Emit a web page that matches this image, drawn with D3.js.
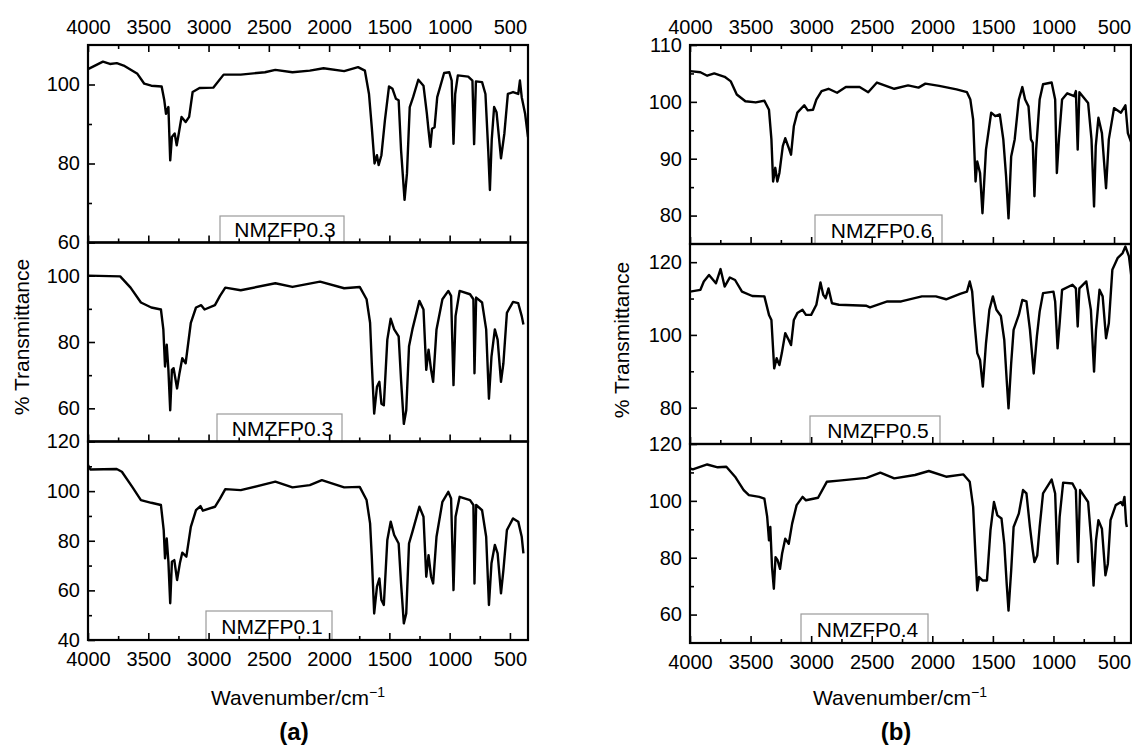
<!DOCTYPE html>
<html>
<head>
<meta charset="utf-8">
<script src="https://d3js.org/d3.v7.min.js"></script>
<style>
  body { margin: 0; background: #fff; }
  svg { font-family: "Liberation Sans", Arial, sans-serif; }
</style>
</head>
<body>
<script>
// x ticks (wavenumber, cm-1)
const xMajor = [4000, 3500, 3000, 2500, 2000, 1500, 1000, 500];
const xMinor = [3750, 3250, 2750, 2250, 1750, 1250, 750];

// (a) NMZFP0.3 (top)
const specA1 = [[4000,103.9],[3876,105.8],[3818,105.2],[3761,105.4],[3704,104.8],[3590,102.7],[3533,100.2],[3475,99.7],[3389,99.5],[3367,96],[3353,92.6],[3333,94.3],[3318,80.8],[3304,86.7],[3281,87.6],[3264,84.6],[3247,87.6],[3224,91.8],[3190,90.5],[3161,91.8],[3132,98.1],[3075,99.1],[2961,99.2],[2875,102.5],[2733,102.5],[2532,103.1],[2446,103.7],[2304,103.1],[2160,103.5],[2046,104.1],[1875,103.4],[1760,104.4],[1703,103.5],[1669,97.6],[1646,89.2],[1623,80],[1603,82.1],[1589,79.6],[1566,82.1],[1537,90.9],[1503,99.5],[1474,98.9],[1446,96.4],[1423,96],[1403,83.4],[1374,70.8],[1354,77.5],[1331,94.3],[1303,96.8],[1260,101.2],[1217,99.7],[1189,92.6],[1175,88.4],[1160,84.2],[1146,88.8],[1125,89.2],[1103,96.8],[1046,102.9],[1003,103.1],[983,101],[968,85],[954,97.6],[932,102.3],[846,102],[811,101],[797,84.9],[782,100.8],[731,100.6],[703,97.6],[680,83.4],[666,73.3],[651,85.9],[631,94.3],[611,93],[574,81.3],[546,87.6],[517,97.6],[474,98.1],[431,97.6],[417,101],[402,96.8],[374,92.6],[350,86.7]];
// (a) NMZFP0.3 (middle)
const specA2 = [[4000,100],[3733,99.8],[3647,96.4],[3561,91.9],[3475,90.4],[3395,89.8],[3375,83.8],[3361,72.6],[3347,79.2],[3333,71.6],[3318,59.4],[3304,71.6],[3290,72.1],[3261,66],[3241,70.6],[3218,75.1],[3190,73.6],[3147,85.8],[3104,90.4],[3061,91.1],[3033,89.8],[2947,91.1],[2905,93.9],[2861,96.4],[2733,95.6],[2446,97.7],[2304,96.6],[2075,98.2],[1875,96.2],[1746,96.6],[1689,92.9],[1660,85.8],[1646,73.6],[1626,58.4],[1603,66.5],[1583,68],[1566,61.4],[1546,60.9],[1517,80.7],[1489,87],[1460,83.8],[1423,81.7],[1403,68.5],[1380,55.3],[1360,59.4],[1337,78.7],[1309,83.8],[1251,92.4],[1217,89.8],[1194,71.6],[1175,77.7],[1154,71.6],[1137,68],[1109,83.8],[1060,92.9],[1011,95.4],[988,93.9],[968,67],[951,87.8],[917,95.4],[831,94.4],[803,92.9],[794,70.6],[780,93.4],[731,91.9],[697,83.8],[674,62.9],[653,75.6],[625,83.8],[602,80.7],[574,68],[554,73.6],[525,88.8],[474,92.1],[431,91.7],[402,87.8],[388,85.3]];
// (a) NMZFP0.1
const specA3 = [[4000,110.5],[3980,108.7],[3762,108.9],[3719,107.8],[3633,101.7],[3561,96.4],[3475,95.3],[3395,94.4],[3372,84.3],[3361,72.9],[3347,80.9],[3333,71.5],[3318,54.8],[3304,71.5],[3284,72.2],[3261,64.2],[3238,70.9],[3218,75.2],[3184,73.6],[3147,85.6],[3104,92.3],[3067,94],[3047,92.1],[2947,93.7],[2905,97],[2861,100.8],[2733,100.4],[2446,103.8],[2304,101.5],[2160,102.4],[2060,104.4],[1875,101.5],[1746,101.7],[1689,96.4],[1660,87],[1646,73.6],[1626,50.7],[1603,61.5],[1583,64.8],[1566,56.1],[1546,54.1],[1517,80.3],[1489,87.7],[1460,82.3],[1423,78.9],[1403,62.8],[1380,46.7],[1360,50.7],[1337,78.9],[1309,83.6],[1251,93.7],[1217,89.7],[1194,65.5],[1175,74.2],[1154,65.5],[1137,62.8],[1109,81.6],[1060,95.7],[1011,99.7],[988,97],[968,60.1],[951,89.7],[917,97.7],[831,96.4],[803,94.4],[794,62.8],[780,94.4],[731,92.3],[697,81.6],[674,54.1],[653,70.9],[625,78.3],[602,74.9],[574,58.8],[554,68.2],[525,84.3],[474,89],[431,87.7],[402,81.6],[388,74.9]];
// (b) NMZFP0.6
const specB1 = [[4000,105.4],[3914,105.2],[3858,104.6],[3800,105],[3714,104.4],[3663,103.6],[3614,101.3],[3543,100.1],[3457,99.9],[3386,100.2],[3348,98.6],[3328,93.4],[3314,86],[3296,88.4],[3279,86],[3262,87.5],[3234,92.2],[3214,93.6],[3185,91.9],[3166,90.7],[3143,95.7],[3114,98.1],[3057,99.4],[3028,98.5],[2985,98.6],[2957,100.4],[2914,101.9],[2857,102.3],[2786,101.6],[2714,102.6],[2600,102.6],[2529,101.7],[2457,103.4],[2314,102.3],[2200,102.9],[2114,102.5],[2057,103.2],[1943,102.8],[1800,102.2],[1714,101.7],[1686,100.4],[1663,96.9],[1643,86],[1629,89.5],[1606,87.5],[1586,80.4],[1557,91.6],[1514,98.1],[1480,97.5],[1443,97.8],[1414,93.4],[1391,86.9],[1371,79.5],[1349,90.4],[1320,93.4],[1286,100.4],[1257,102.6],[1234,100.4],[1206,99.2],[1186,93.4],[1171,92.8],[1157,83.4],[1143,91.6],[1114,100.4],[1086,103.1],[1015,103.4],[986,100.4],[972,87.5],[955,93.4],[929,100.4],[886,101.5],[829,101],[815,101.9],[800,91.6],[786,101.7],[714,99.8],[686,93.4],[665,81.6],[651,92.2],[629,97.2],[600,94.5],[566,84.8],[543,93.4],[500,98.9],[443,98.1],[406,99.4],[386,94.5],[357,92.8]];
// (b) NMZFP0.5
const specB2 = [[4000,111.9],[3914,112.4],[3886,114.7],[3843,116.5],[3786,114.2],[3748,118.1],[3714,113.3],[3671,115.8],[3628,115.1],[3571,111.9],[3486,110.7],[3386,110.6],[3348,105.5],[3328,104.1],[3305,90.8],[3285,93.6],[3262,91.7],[3242,95],[3214,100.5],[3185,98.6],[3166,97.2],[3143,104.1],[3114,106],[3071,106.9],[3043,105.5],[3000,105.5],[2957,108.3],[2923,114.4],[2900,111],[2880,110.1],[2857,112.8],[2828,108.7],[2771,108.3],[2543,108],[2514,107.6],[2371,109.2],[2257,109.2],[2086,110.6],[1971,110.6],[1886,109.8],[1771,111.3],[1714,111.9],[1691,114.7],[1671,111.9],[1651,103.2],[1629,95],[1606,93.1],[1583,85.8],[1557,97.7],[1529,106.9],[1500,110.6],[1471,106.9],[1434,105.2],[1406,98.6],[1386,87.6],[1371,79.8],[1349,92.2],[1329,101.4],[1286,105.5],[1257,109.6],[1223,109.2],[1194,101.4],[1163,89.4],[1137,99.5],[1114,106.4],[1086,111.5],[1000,111.9],[986,109.2],[966,96.3],[949,103.2],[929,112.4],[843,113.8],[815,112.8],[800,102.3],[786,112.8],[729,114.7],[691,106.9],[665,89.9],[649,101.4],[620,112.4],[594,110.6],[566,99.1],[543,103.2],[514,117.9],[471,121.1],[429,122.5],[406,124.3],[377,121.6],[357,116.1]];
// (b) NMZFP0.4
const specB3 = [[4000,111.4],[3977,111.1],[3858,112.8],[3771,111.8],[3700,112],[3628,108.5],[3557,103.8],[3514,102],[3428,101.4],[3386,100.8],[3363,94.4],[3348,86.1],[3337,90.8],[3323,76.7],[3308,69.1],[3294,80.2],[3277,79.1],[3257,76.1],[3240,81.4],[3214,86.7],[3185,84.9],[3157,92],[3120,98.5],[3071,101.4],[3043,100.2],[2943,101.1],[2871,106.7],[2771,107.1],[2543,108.1],[2429,109.9],[2314,107.9],[2143,109.1],[2029,110.5],[1886,108.5],[1743,109.3],[1691,106.7],[1663,97.9],[1643,80.2],[1629,68.5],[1614,73.2],[1586,72],[1549,72],[1520,89.6],[1491,99.6],[1463,94.9],[1429,93.8],[1406,84.9],[1386,70.8],[1371,61.4],[1349,75.5],[1329,90.8],[1286,95.5],[1251,103.8],[1223,102.6],[1194,90.8],[1171,82.6],[1157,78.5],[1134,80.8],[1114,90.8],[1086,102.6],[1015,107.5],[986,102.6],[966,77.9],[949,94.4],[920,106.4],[843,106.1],[815,103.8],[797,78.5],[780,103.8],[714,99.6],[686,84.9],[669,70.2],[649,86.1],[629,93.2],[600,90.2],[571,73.8],[551,77.9],[529,93.2],[486,98.5],[443,99.6],[429,98.5],[414,101.4],[400,92],[394,90.8]];

// y ticks per panel
const yMajorA1 = [60, 80, 100], yMinorA1 = [70, 90];
const yMajorA2 = [60, 80, 100], yMinorA2 = [70, 90];
const yMajorA3 = [40, 60, 80, 100, 120], yMinorA3 = [50, 70, 90, 110];
const yMajorB1 = [80, 90, 100, 110], yMinorB1 = [85, 95, 105];
const yMajorB2 = [80, 100, 120], yMinorB2 = [90, 110];
const yMajorB3 = [60, 80, 100, 120], yMinorB3 = [70, 90, 110];

const W = 1132, H = 745;
const svg = d3.select("body").append("svg").attr("width", W).attr("height", H);
svg.append("rect").attr("width", W).attr("height", H).attr("fill", "#fff");

const figs = [
  { x0: 88, x1: 528, dom: [4000, 350], ylabX: 22, ylabY: 337, cx: 298, tag: "(a)",
    panels: [
      { y0: 45, y1: 242.5, dom: [60, 110], maj: yMajorA1, min: yMinorA1, data: specA1, name: "NMZFP0.3", box: [220, 216, 344] },
      { y0: 242.5, y1: 441.5, dom: [50, 110], maj: yMajorA2, min: yMinorA2, data: specA2, name: "NMZFP0.3", box: [217, 414, 342] },
      { y0: 441.5, y1: 640, dom: [40, 120], maj: yMajorA3, min: yMinorA3, data: specA3, name: "NMZFP0.1", box: [206, 611, 332] }
    ] },
  { x0: 690, x1: 1131, dom: [4000, 360], ylabX: 622, ylabY: 340, cx: 900, tag: "(b)",
    panels: [
      { y0: 45, y1: 244, dom: [75, 110], maj: yMajorB1, min: yMinorB1, data: specB1, name: "NMZFP0.6", box: [815, 215, 942] },
      { y0: 244, y1: 444, dom: [70, 125], maj: yMajorB2, min: yMinorB2, data: specB2, name: "NMZFP0.5", box: [810, 416, 940] },
      { y0: 444, y1: 643, dom: [50, 120], maj: yMajorB3, min: yMinorB3, data: specB3, name: "NMZFP0.4", box: [801, 614, 928] }
    ] }
];

function styleAxis(g) {
  g.select(".domain").remove();
  g.selectAll("line").attr("stroke", "#000").attr("stroke-width", 1.6);
  g.selectAll("text").attr("font-size", 20).attr("fill", "#000")
    .attr("font-family", "'Liberation Sans', Arial, sans-serif");
}

figs.forEach((f, fi) => {
  const x = d3.scaleLinear().domain(f.dom).range([f.x0, f.x1]);
  f.panels.forEach((p, pi) => {
    const y = d3.scaleLinear().domain(p.dom).range([p.y1, p.y0]);
    const g = svg.append("g");
    const clipId = "clip" + fi + pi;
    svg.append("clipPath").attr("id", clipId).append("rect")
      .attr("x", f.x0).attr("y", p.y0).attr("width", f.x1 - f.x0).attr("height", p.y1 - p.y0);

    // label box
    g.append("rect").attr("x", p.box[0]).attr("y", p.box[1])
      .attr("width", p.box[2] - p.box[0]).attr("height", p.y1 - p.box[1])
      .attr("fill", "#fff").attr("stroke", "#9a9a9a").attr("stroke-width", 1.2);
    g.append("text").attr("x", (p.box[0] + p.box[2]) / 2 + 3).attr("y", p.y1 - 6)
      .attr("text-anchor", "middle").attr("font-size", 21).text(p.name);

    // spectrum
    g.append("path").datum(p.data)
      .attr("clip-path", "url(#" + clipId + ")")
      .attr("fill", "none").attr("stroke", "#000").attr("stroke-width", 2.4)
      .attr("stroke-linejoin", "round")
      .attr("d", d3.line().x(d => x(d[0])).y(d => y(d[1])));

    // y axis
    g.append("g").attr("transform", "translate(" + f.x0 + ",0)")
      .call(d3.axisLeft(y).tickValues(p.maj).tickSize(-7).tickPadding(8).tickFormat(d3.format("d")))
      .call(styleAxis);
    g.append("g").attr("transform", "translate(" + f.x0 + ",0)")
      .call(d3.axisLeft(y).tickValues(p.min).tickSize(-4).tickFormat(""))
      .call(styleAxis);

    // bottom x ticks (inward)
    const last = pi === f.panels.length - 1;
    g.append("g").attr("transform", "translate(0," + p.y1 + ")")
      .call(d3.axisBottom(x).tickValues(xMajor).tickSize(-7).tickPadding(12)
        .tickFormat(last ? d3.format("d") : ""))
      .call(styleAxis);
    g.append("g").attr("transform", "translate(0," + p.y1 + ")")
      .call(d3.axisBottom(x).tickValues(xMinor).tickSize(-4).tickFormat(""))
      .call(styleAxis);

    if (pi === 0) {
      g.append("g").attr("transform", "translate(0," + p.y0 + ")")
        .call(d3.axisTop(x).tickValues(xMajor).tickSize(-7).tickPadding(11).tickFormat(d3.format("d")))
        .call(styleAxis);
      g.append("g").attr("transform", "translate(0," + p.y0 + ")")
        .call(d3.axisTop(x).tickValues(xMinor).tickSize(-4).tickFormat(""))
        .call(styleAxis);
    }

    // frame
    g.append("rect").attr("x", f.x0).attr("y", p.y0)
      .attr("width", f.x1 - f.x0).attr("height", p.y1 - p.y0)
      .attr("fill", "none").attr("stroke", "#000").attr("stroke-width", 2.2);
  });

  svg.append("text")
    .attr("transform", "translate(" + f.ylabX + "," + f.ylabY + ") rotate(-90)")
    .attr("text-anchor", "middle").attr("dy", "0.35em").attr("font-size", 21)
    .text("% Transmittance");

  const xl = svg.append("text").attr("x", f.cx).attr("y", 705)
    .attr("text-anchor", "middle").attr("font-size", 21);
  xl.append("tspan").text("Wavenumber/cm");
  xl.append("tspan").attr("dy", -8).attr("font-size", 14).text("\u22121");

  svg.append("text").attr("x", f.cx - 4).attr("y", 740)
    .attr("text-anchor", "middle").attr("font-size", 24).attr("font-weight", "bold")
    .text(f.tag);
});
</script>
</body>
</html>
